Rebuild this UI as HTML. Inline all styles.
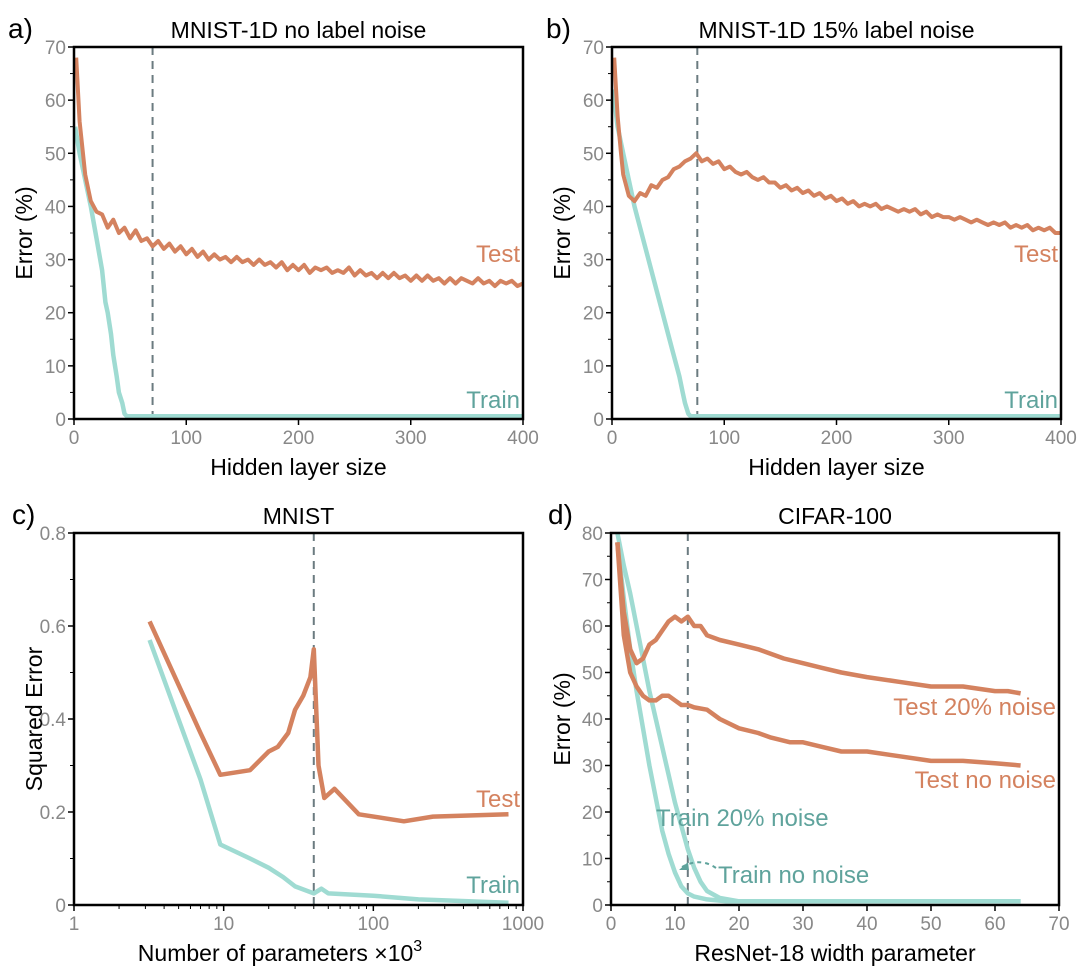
<!DOCTYPE html>
<html><head><meta charset="utf-8">
<style>
body{margin:0;background:#fff;width:1085px;height:970px;overflow:hidden}
svg{font-family:"Liberation Sans","DejaVu Sans",sans-serif}
</style></head>
<body>
<svg id="fig" width="1085" height="970" xmlns="http://www.w3.org/2000/svg"></svg>
<script>
// ---- Panel a data ----
const aTestX=[2,5,10,15,20,25,30,35,40,45,50,55,60,65,70,75,80,85,90,95,100,105,110,115,120,125,130,135,140,145,150,155,160,165,170,175,180,185,190,195,200,205,210,215,220,225,230,235,240,245,250,255,260,265,270,275,280,285,290,295,300,305,310,315,320,325,330,335,340,345,350,355,360,365,370,375,380,385,390,395,400];
const aTestY=[68,56,46,41,39,38.5,36,37.5,35,36,34,35.5,33.5,34,32.5,33.5,32,33,31.5,32.5,31,32,30.5,31.5,30,31,30,30.5,29.5,30.5,29.5,30,29,30,29,29.5,28.5,29.5,28,29,28,29,27.5,28.5,28,28.5,27.5,28,27.5,28.5,27,28,27,27.5,26.5,27.5,26.5,27.5,26.5,27,26,27,26,27,26,26.5,25.5,26.5,25.5,26.5,26,25.5,26.5,25.5,26,25,26,25.5,26,25,25.5];
const aTrainX=[1,5,10,15,20,25,28,30,33,35,38,40,43,45,47,400];
const aTrainY=[55,50,45,40,34,28,22,20,16,12,8,5,3,1,0.5,0.5];
// ---- Panel b data ----
const bTestX=[2,5,8,10,15,20,25,30,35,40,45,50,55,60,65,70,75,80,85,90,95,100,105,110,115,120,125,130,135,140,145,150,155,160,165,170,175,180,185,190,195,200,205,210,215,220,225,230,235,240,245,250,255,260,265,270,275,280,285,290,295,300,305,310,315,320,325,330,335,340,345,350,355,360,365,370,375,380,385,390,395,400];
const bTestY=[68,57,50,46,42,41,42.5,42,44,43.5,45,45.5,47,47.5,48.5,49,50,48.5,49,48,48.5,47,47.5,46.5,46,46.5,45.5,45,45.5,44.5,44.5,43.5,44,43,43.5,42.5,43,42,42.5,41.5,42,41,41.5,40.5,41,40,40.5,40,40.5,39.5,40,39.5,39,39.5,39,39.5,38.5,39,38,38.5,38,38,37.5,38,37.5,37,37.5,37,36.5,37,36.5,37,36,36.5,36,36.5,35.5,36,35.5,36,35,35];
const bTrainX=[1,5,10,15,20,25,30,35,40,45,50,55,60,63,65,68,70,400];
const bTrainY=[62,55,50,45,40,36,32,28,24,20,16,12,8,5,3,1,0.5,0.5];
// ---- Panel c data ----
const cTestX=[3.2,7,9.5,15,20,23,27,30,34,38,40,43,47,55,80,160,250,800];
const cTestY=[0.61,0.37,0.28,0.29,0.33,0.34,0.37,0.42,0.45,0.49,0.55,0.30,0.23,0.25,0.195,0.18,0.19,0.195];
const cTrainX=[3.2,7,9.5,15,20,25,30,40,45,50,100,200,800];
const cTrainY=[0.57,0.27,0.13,0.10,0.08,0.06,0.04,0.025,0.035,0.025,0.02,0.012,0.005];
// ---- Panel d data ----
const dTest20X=[1,2,3,4,5,6,7,8,9,10,11,12,13,14,15,17,20,23,25,27,30,33,36,40,45,50,55,60,62,64];
const dTest20Y=[78,63,55,52,53,56,57,59,61,62,61,62,60,60,58,57,56,55,54,53,52,51,50,49,48,47,47,46,46,45.5];
const dTestNoX=[1,2,3,4,5,6,7,8,9,10,11,12,13,15,17,20,23,25,28,30,33,36,40,45,50,55,60,64];
const dTestNoY=[78,58,50,47,45,44,44,45,45,44,43,43,42.5,42,40,38,37,36,35,35,34,33,33,32,31,31,30.5,30];
const dTrain20X=[1,2,3,4,5,6,7,8,9,10,11,12,13,14,15,17,20,64];
const dTrain20Y=[80,73,67,60,53,46,40,34,28,22,17,12,8,5,3,1.5,0.8,0.8];
const dTrainNoX=[1,2,3,4,5,6,7,8,9,10,11,12,13,15,18,64];
const dTrainNoY=[78,66,55,46,38,30,23,16,11,7,4,2.5,1.8,1.2,0.8,0.8];
const tickA=[0,100,200,300,400], tickAY=[0,10,20,30,40,50,60,70];
const tickCX=[1,10,100,1000], tickCY=[0,0.2,0.4,0.6,0.8];
const tickDX=[0,10,20,30,40,50,60,70], tickDY=[0,10,20,30,40,50,60,70,80];

const NS="http://www.w3.org/2000/svg", svg=document.getElementById('fig');
const ORANGE="#d4825f", TEAL="#9fdbd2", TEALT="#5fa39c", GRAY="#888";
function el(t,a,p){const e=document.createElementNS(NS,t);for(const k in a)e.setAttribute(k,a[k]);(p||svg).appendChild(e);return e;}
function txt(s,a,p){const e=el('text',a,p);e.textContent=s;return e;}
function lin(d0,d1,r0,r1){return v=>r0+(v-d0)/(d1-d0)*(r1-r0);}
function logs(d0,d1,r0,r1){return v=>r0+(Math.log10(v)-Math.log10(d0))/(Math.log10(d1)-Math.log10(d0))*(r1-r0);}
function path(xs,ys,sx,sy,col,name,w){
  const d=xs.map((x,i)=>(i?'L':'M')+sx(x).toFixed(1)+','+sy(ys[i]).toFixed(1)).join('');
  const p=el('path',{d:d,fill:'none',stroke:col,'stroke-width':w||4.5,'stroke-linejoin':'round'});
  
  
}
function panel(o){
  const g=el('g',{});
  
  
  const L=o.L,R=o.R,T=o.T,B=o.B;
  // y ticks
  o.yt.forEach((v,i)=>{const y=o.sy(v);
    el('line',{x1:L-6,x2:L,y1:y,y2:y,stroke:'#000','stroke-width':1.5},g);
    const t=txt(o.yl?o.yl[i]:String(v),{x:L-8,y:y+7,'text-anchor':'end','font-size':19,fill:GRAY},g);
    
    if(i<o.yt.length-1){const ym=o.sy((v+o.yt[i+1])/2);el('line',{x1:L-4,x2:L,y1:ym,y2:ym,stroke:'#000','stroke-width':1},g);}
  });
  o.xt.forEach((v,i)=>{const x=o.sx(v);
    el('line',{x1:x,x2:x,y1:B,y2:B+6,stroke:'#000','stroke-width':1.5},g);
    const t=txt(String(v),{x:x,y:B+25,'text-anchor':'middle','font-size':19,fill:GRAY},g);
    
  });
  if(o.minorx)o.minorx.forEach(v=>{const x=o.sx(v);el('line',{x1:x,x2:x,y1:B,y2:B+4,stroke:'#000','stroke-width':1},g);});
  const dl=el('line',{x1:o.sx(o.dash),x2:o.sx(o.dash),y1:T,y2:B,stroke:'#6b7b80','stroke-width':2,'stroke-dasharray':'8,6'},g);
  
  const tt=txt(o.title,{x:(L+R)/2,y:T-9,'text-anchor':'middle','font-size':23,fill:'#000'},g);
  
  const lt=txt(o.letter,{x:o.lx,y:T-9,'font-size':28,fill:'#000'},g);
  
  const xl=txt(o.xlab,{x:(L+R)/2,y:B+56,'text-anchor':'middle','font-size':23,fill:'#000'},g);
  
  const cy=(T+B)/2;
  const yl=txt(o.ylab,{x:o.ylx,y:cy,'text-anchor':'middle','font-size':23,fill:'#000',transform:`rotate(-90 ${o.ylx} ${cy})`},g);
  
  return g;
}
function frame(L,R,T,B){const r=el('rect',{x:L,y:T,width:R-L,height:B-T,fill:'none',stroke:'#000','stroke-width':2.5});}
function label(s,x,y,col,anchor){const t=txt(s,{x:x,y:y,'text-anchor':anchor||'end','font-size':24,fill:col});}

// Panel a
let sx=lin(0,400,74,523), sy=lin(0,70,419,47);
panel({name:'panel-a',L:74,R:523,T:47,B:419,sx,sy,yt:tickAY,xt:tickA,dash:70,title:'MNIST-1D no label noise',letter:'a)',lx:8,xlab:'Hidden layer size',ylab:'Error (%)',ylx:32});
path(aTrainX,aTrainY,sx,sy,TEAL,'train-line');
path(aTestX,aTestY,sx,sy,ORANGE,'test-line',4);
frame(74,523,47,419);
label('Test',520,262,ORANGE);label('Train',520,408,TEALT);
// Panel b
sx=lin(0,400,612,1061); sy=lin(0,70,419,47);
panel({name:'panel-b',L:612,R:1061,T:47,B:419,sx,sy,yt:tickAY,xt:tickA,dash:76,title:'MNIST-1D 15% label noise',letter:'b)',lx:546,xlab:'Hidden layer size',ylab:'Error (%)',ylx:570});
path(bTrainX,bTrainY,sx,sy,TEAL,'train-line');
path(bTestX,bTestY,sx,sy,ORANGE,'test-line',4);
frame(612,1061,47,419);
label('Test',1058,262,ORANGE);label('Train',1058,408,TEALT);
// Panel c
sx=logs(1,1000,74,523); sy=lin(0,0.8,905,533);
const minor=[];[1,10,100].forEach(b=>{for(let k=2;k<10;k++)minor.push(b*k);});
panel({name:'panel-c',L:74,R:523,T:533,B:905,sx,sy,yt:tickCY,yl:['0','0.2','0.4','0.6','0.8'],xt:tickCX,minorx:minor,dash:40,title:'MNIST',letter:'c)',lx:12,xlab:'',ylab:'Squared Error',ylx:42});
const xc=txt('Number of parameters ×10',{x:280,y:961,'text-anchor':'middle','font-size':23,fill:'#000'});

const sup=el('tspan',{dy:-10,'font-size':16},xc);sup.textContent='3';
path(cTrainX,cTrainY,sx,sy,TEAL,'train-line');
path(cTestX,cTestY,sx,sy,ORANGE,'test-line');
frame(74,523,533,905);
label('Test',520,807,ORANGE);label('Train',520,893,TEALT);
// Panel d
sx=lin(0,70,611,1059); sy=lin(0,80,905,533);
panel({name:'panel-d',L:611,R:1059,T:533,B:905,sx,sy,yt:tickDY,xt:tickDX,dash:12,title:'CIFAR-100',letter:'d)',lx:548,xlab:'ResNet-18 width parameter',ylab:'Error (%)',ylx:570});
path(dTrainNoX,dTrainNoY,sx,sy,TEAL,'train-no-noise-line');
path(dTrain20X,dTrain20Y,sx,sy,TEAL,'train-20-noise-line');
path(dTest20X,dTest20Y,sx,sy,ORANGE,'test-20-noise-line');
path(dTestNoX,dTestNoY,sx,sy,ORANGE,'test-no-noise-line');
frame(611,1059,533,905);
label('Test 20% noise',1056,715,ORANGE);label('Test no noise',1056,788,ORANGE);
label('Train 20% noise',656,826,TEALT,'start');label('Train no noise',718,883,TEALT,'start');
const ar=el('path',{d:'M716,868 Q700,857 682,867',fill:'none',stroke:TEALT,'stroke-width':2,'stroke-dasharray':'4,4'});

const ah=el('path',{d:'M679,870 L688,862 L689,870 Z',fill:TEALT});

</script>
</body></html>
